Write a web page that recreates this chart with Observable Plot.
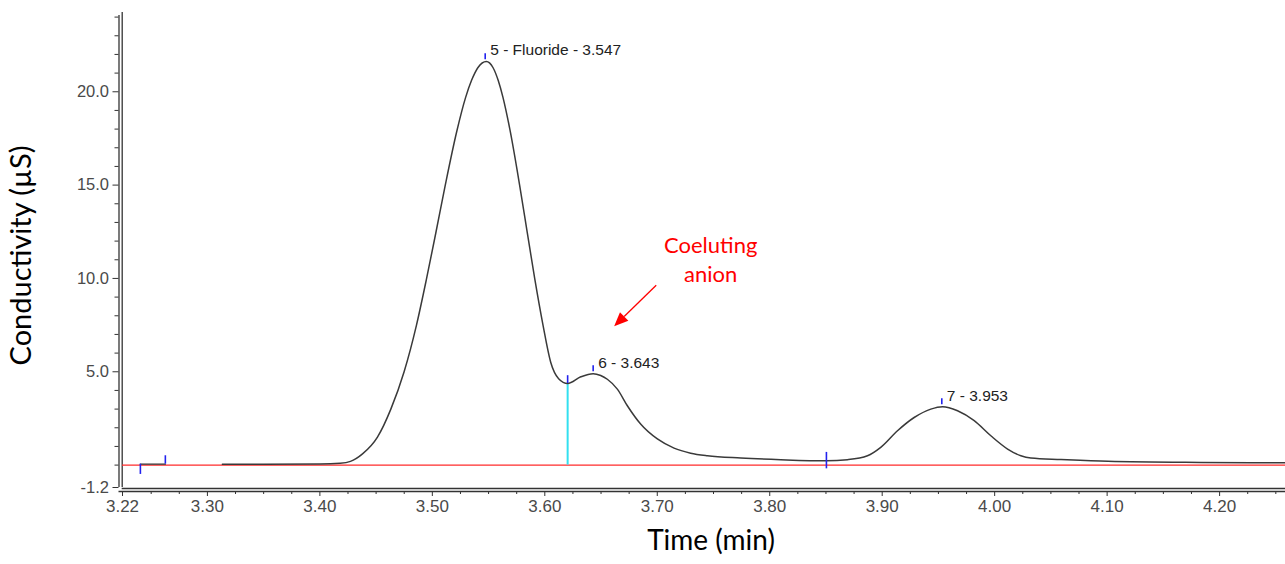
<!DOCTYPE html>
<html>
<head>
<meta charset="utf-8">
<script src="https://cdn.jsdelivr.net/npm/d3@7"></script>
<script src="https://cdn.jsdelivr.net/npm/@observablehq/plot@0.6"></script>
<style>
  body { margin: 0; background: #fff; }
  #chart svg { display: block; }
</style>
</head>
<body>
<div id="chart"></div>
<script>
// ---- Chromatogram trace (time in min, conductivity in µS) ----
const time = [3.3133, 3.35, 3.40, 3.418, 3.4272, 3.4379, 3.4512, 3.4631, 3.4749, 3.4859,
  3.4949, 3.5033, 3.5115, 3.5218, 3.5296, 3.5348, 3.5406, 3.548, 3.5539, 3.5586,
  3.5628, 3.5692, 3.5776, 3.5843, 3.591, 3.5984, 3.6053, 3.6123, 3.6203, 3.632,
  3.643, 3.6497, 3.6556, 3.6645, 3.6734, 3.6852, 3.7001, 3.7149, 3.7297, 3.7446,
  3.7743, 3.8098, 3.8504, 3.8691, 3.8869, 3.8987, 3.9136, 3.9284, 3.9432, 3.9537,
  3.967, 3.9818, 3.9966, 4.0115, 4.0233, 4.0322, 4.059, 4.1007, 4.1835, 4.2586];
const signal = [0.05, 0.05, 0.06, 0.1, 0.2, 0.6, 1.5, 3.0, 5.0, 7.5,
  10.0, 12.5, 15.0, 17.9, 19.7, 20.6, 21.3, 21.62, 21.3, 20.6,
  19.7, 17.9, 15.0, 12.5, 10.0, 7.5, 5.5, 4.63, 4.37, 4.73,
  4.9, 4.8, 4.6, 4.07, 3.18, 2.2, 1.4, 0.91, 0.64, 0.5,
  0.38, 0.29, 0.23, 0.29, 0.5, 0.95, 1.84, 2.55, 3.0, 3.13,
  2.91, 2.38, 1.57, 0.86, 0.5, 0.38, 0.3, 0.2, 0.14, 0.12];

// Peaks
const peakTimes = [3.547, 3.643, 3.953];
const peakValues = [21.62, 4.9, 3.13];
const peakLabels = ["5 - Fluoride - 3.547", "6 - 3.643", "7 - 3.953"];

// Integration valley / split points
const valleyTimes = [3.6203, 3.8504];
const valleyValues = [4.37, 0.23];

// Baseline start marker segment
const markerTimes = [3.2404, 3.2626];
const markerValue = 0.05;

// Axis extents and ticks
const xStart = 3.2245, xEnd = 4.2586;
const yStart = -1.2, yEnd = 24.3;
const xTickValues = [3.2245, 3.30, 3.40, 3.50, 3.60, 3.70, 3.80, 3.90, 4.00, 4.10, 4.20];
const xTickLabels = ["3.22", "3.30", "3.40", "3.50", "3.60", "3.70", "3.80", "3.90", "4.00", "4.10", "4.20"];
const xMinorTicks = [3.25, 3.275, 3.325, 3.35, 3.375, 3.425, 3.45, 3.475, 3.525, 3.55, 3.575,
  3.625, 3.65, 3.675, 3.725, 3.75, 3.775, 3.825, 3.85, 3.875, 3.925, 3.95, 3.975,
  4.025, 4.05, 4.075, 4.125, 4.15, 4.175, 4.225, 4.25];
const yTickValues = [-1.2, 5, 10, 15, 20];
const yTickLabels = ["-1.2", "5.0", "10.0", "15.0", "20.0"];
const yMinorTicks = [0, 1, 2, 3, 4, 6, 7, 8, 9, 11, 12, 13, 14, 16, 17, 18, 19, 21, 22, 23, 24];

// Annotation
const annotationText = "Coeluting\nanion";
const annotationPos = [3.7475, 11.1];
const arrowFrom = [3.6995, 9.61];
const arrowTo = [3.6621, 7.41];

const yLabel = "Conductivity (µS)";
const xLabel = "Time (min)";

const trace = time.map((t, i) => ({t, v: signal[i]}));
const peaks = peakTimes.map((t, i) => ({t, v: peakValues[i], label: peakLabels[i]}));

const axisColor = "#333";
const tickFont = "Liberation Sans, Arial, sans-serif";
const titleFont = "Lato, 'Open Sans', sans-serif";

const chart = Plot.plot({
  width: 1285,
  height: 564,
  marginLeft: 122,
  marginRight: 0,
  marginTop: 11,
  marginBottom: 77,
  style: {background: "#fff", color: axisColor, fontFamily: tickFont},
  x: {domain: [xStart, xEnd], axis: null},
  y: {domain: [yStart, yEnd], axis: null},
  marks: [
    // y axis ticks and labels
    Plot.axisY({ticks: yTickValues, tickFormat: d => yTickLabels[yTickValues.indexOf(d)], tickSize: 6, tickPadding: 4, dx: -3.5, fontSize: 16.5, fill: "#4a4a4a", stroke: axisColor, label: null}),
    Plot.axisY({ticks: yMinorTicks, tickFormat: () => "", tickSize: 4, dx: -3.5, stroke: axisColor, label: null}),
    // x axis ticks and labels
    Plot.axisX({ticks: xTickValues, tickFormat: d => xTickLabels[xTickValues.indexOf(d)], tickSize: 5, tickPadding: 3, dy: 4, fontSize: 17, fill: "#4a4a4a", stroke: axisColor, label: null}),
    Plot.axisX({ticks: xMinorTicks, tickFormat: () => "", tickSize: 3, dy: 4, stroke: axisColor, label: null}),
    // double-line axes
    Plot.ruleX([xStart], {y1: yStart, y2: yEnd, dx: -3.5, insetBottom: -4, stroke: axisColor, strokeWidth: 1.3}),
    Plot.ruleX([xStart], {y1: yStart, y2: yEnd, dx: -0.3, insetBottom: -1, stroke: axisColor, strokeWidth: 1.3}),
    Plot.ruleY([yStart], {dy: 4, insetLeft: -3.5, stroke: axisColor, strokeWidth: 1.3}),
    Plot.ruleY([yStart], {dy: 1, insetLeft: -0.3, stroke: axisColor, strokeWidth: 1.3}),
    // red baseline
    Plot.ruleY([0], {stroke: "#ff2b2b", strokeWidth: 1.3}),
    // cyan drop line at valley
    Plot.ruleX([valleyTimes[0]], {y1: 0, y2: valleyValues[0], stroke: "#33e0f0", strokeWidth: 2}),
    // left baseline marker segment
    Plot.line(markerTimes.map(t => ({t, v: markerValue})), {x: "t", y: "v", stroke: "#333", strokeWidth: 1.3}),
    Plot.ruleX([markerTimes[0]], {y1: markerValue, y2: -0.5, stroke: "#2222ee", strokeWidth: 1.6}),
    Plot.ruleX([markerTimes[1]], {y1: markerValue, y2: 0.5, stroke: "#2222ee", strokeWidth: 1.6}),
    // trace
    Plot.line(trace, {x: "t", y: "v", stroke: "#3a3a3a", strokeWidth: 1.5, curve: "monotone-x"}),
    // valley markers
    Plot.ruleX([valleyTimes[0]], {y1: valleyValues[0], y2: valleyValues[0] + 0.42, stroke: "#2222ee", strokeWidth: 1.6}),
    Plot.ruleX([valleyTimes[1]], {y1: valleyValues[1] + 0.45, y2: -0.2, stroke: "#2222ee", strokeWidth: 1.6}),
    // apex markers
    Plot.ruleX(peaks, {x: "t", y1: d => d.v + 0.1, y2: d => d.v + 0.42, stroke: "#2222ee", strokeWidth: 1.6}),
    // peak labels
    Plot.text(peaks, {x: "t", y: "v", text: "label", dx: 5, dy: -11, textAnchor: "start", fontSize: 15.5, fill: "#222", fontFamily: tickFont}),
    // annotation text
    Plot.text([annotationText], {x: annotationPos[0], y: annotationPos[1], text: d => d, fill: "#ff0000", fontSize: 22, lineHeight: 1.36, fontFamily: titleFont}),
    // axis titles
    Plot.text([yLabel], {frameAnchor: "left", textAnchor: "middle", text: d => d, rotate: -90, dx: -101, dy: 6, fontSize: 29, fill: "#000", fontFamily: titleFont}),
    Plot.text([xLabel], {frameAnchor: "bottom", textAnchor: "middle", text: d => d, dx: 7, dy: 62, fontSize: 28, fill: "#000", fontFamily: titleFont})
  ]
});

// Filled arrow drawn with the plot's own scales
const sx = chart.scale("x"), sy = chart.scale("y");
const ax1 = sx.apply(arrowFrom[0]), ay1 = sy.apply(arrowFrom[1]);
const ax2 = sx.apply(arrowTo[0]), ay2 = sy.apply(arrowTo[1]);
const ang = Math.atan2(ay2 - ay1, ax2 - ax1);
const headLen = 14, headHalf = 6;
const bx = ax2 - headLen * Math.cos(ang), by = ay2 - headLen * Math.sin(ang);
const g = d3.select(chart).append("g");
g.append("line").attr("x1", ax1).attr("y1", ay1).attr("x2", bx).attr("y2", by)
  .attr("stroke", "#ff0000").attr("stroke-width", 1.3);
g.append("polygon").attr("fill", "#ff0000").attr("points", [
  [ax2, ay2],
  [bx + headHalf * Math.sin(ang), by - headHalf * Math.cos(ang)],
  [bx - headHalf * Math.sin(ang), by + headHalf * Math.cos(ang)]
].map(p => p.join(",")).join(" "));

document.getElementById("chart").append(chart);
</script>
</body>
</html>
